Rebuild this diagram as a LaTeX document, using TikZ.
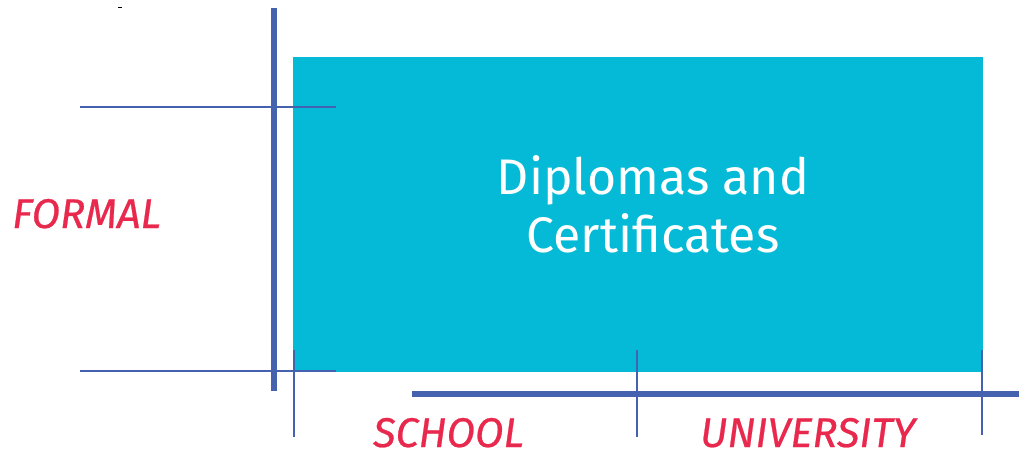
\documentclass[tikz,border=0pt]{standalone}
\usepackage{fontspec}
\setmainfont{Fira Sans}
\newfontfamily\labelfont[ItalicFont={* Italic}, ItalicFeatures={FakeBold=0.6}]{Fira Sans}
\definecolor{teal}{HTML}{04BAD6}
\definecolor{axisblue}{HTML}{4562B0}
\definecolor{labelred}{HTML}{E8284C}
\tikzset{
  thick axis/.style={draw=axisblue, line width=5.5pt},
  tick/.style={draw=axisblue, line width=2.2pt},
  label/.style={text=labelred, font=\labelfont\itshape\fontsize{41.5}{44}\selectfont, inner sep=0pt, anchor=base west},
}
\begin{document}
\begin{tikzpicture}[x=1pt,y=-1pt]
\useasboundingbox (0,0) rectangle (1019,457);
% box
\node[fill=teal, minimum width=690pt, minimum height=315pt, inner sep=0pt, anchor=north west] (box) at (293,57) {};
\node[text=white, font=\fontsize{50}{57.5}\selectfont, align=center, anchor=base] (title) at (653,252) {Diplomas and\\Certificates};
% tiny mark
\coordinate (m1) at (118,7.5);
\coordinate (m2) at (122,7.5);
\draw[black, line width=0.8pt] (m1) -- (m2);
% left axis
\coordinate (va) at (274,8);
\coordinate (vb) at (274,391);
\draw[thick axis] (va) -- (vb);
\coordinate (h1a) at (80,107);
\coordinate (h1b) at (336,107);
\draw[tick] (h1a) -- (h1b);
\coordinate (h2a) at (80,371);
\coordinate (h2b) at (336,371);
\draw[tick] (h2a) -- (h2b);
% bottom axis
\coordinate (ha) at (412,394);
\coordinate (hb) at (1019,394);
\draw[thick axis] (ha) -- (hb);
\coordinate (t1a) at (294,350);
\coordinate (t1b) at (294,437);
\draw[tick] (t1a) -- (t1b);
\coordinate (t2a) at (637,350);
\coordinate (t2b) at (637,437);
\draw[tick] (t2a) -- (t2b);
\coordinate (t3a) at (982,350);
\coordinate (t3b) at (982,435);
\draw[tick] (t3a) -- (t3b);
% labels
\node[label] (formal) at (12,228) {FORMAL};
\node[label] (school) at (373,447) {SCHOOL};
\node[label] (univ) at (700,447) {UNIVERSITY};
\end{tikzpicture}
\end{document}
